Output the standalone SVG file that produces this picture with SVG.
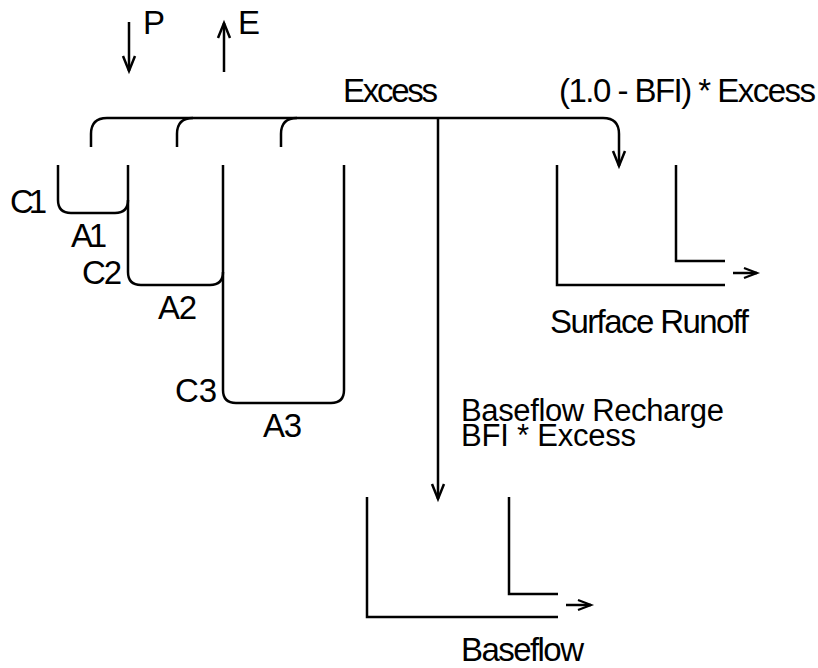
<svg xmlns="http://www.w3.org/2000/svg" width="818" height="668" viewBox="0 0 818 668">
<style>
.t{font-family:"Liberation Sans",Arial,sans-serif;font-size:33px;fill:#000}
.s{font-size:31px}
.ln{fill:none;stroke:#000;stroke-width:2.5}
.big{marker-end:url(#ab)}
.sm{marker-end:url(#as)}
</style>
<defs>
<marker id="ab" markerUnits="userSpaceOnUse" markerWidth="18" markerHeight="14" refX="15" refY="6" orient="auto" overflow="visible">
<path d="M0,0 L15,6 L0,12" fill="none" stroke="#000" stroke-width="2.5"/>
</marker>
<marker id="as" markerUnits="userSpaceOnUse" markerWidth="16" markerHeight="12" refX="13" refY="5" orient="auto" overflow="visible">
<path d="M0,0 L13,5 L0,10" fill="none" stroke="#000" stroke-width="2.2"/>
</marker>
</defs>
<rect width="818" height="668" fill="#fff"/>
<g id="connectors">
<path class="ln big" d="M129,22 V71"/>
<path class="ln big" d="M224,72 V23"/>
<path class="ln big" d="M91,147 V134 Q91,118 107,118 H603 Q619,118 619,134 V166"/>
<path class="ln" d="M177,147 V134 Q177,118 193,118"/>
<path class="ln" d="M281,147 V134 Q281,118 297,118"/>
<path class="ln big" d="M438,118 V499"/>
<path class="ln sm" d="M733,273 H757"/>
<path class="ln sm" d="M566,605 H591"/>
</g>
<g id="tank1">
<path class="ln" d="M58,165 V200 Q58,213 71,213 H115 Q128,213 128,200"/>
<text class="t" x="10" y="213" textLength="37" lengthAdjust="spacing">C1</text>
<text class="t" x="71" y="247" textLength="36" lengthAdjust="spacing">A1</text>
</g>
<g id="tank2">
<path class="ln" d="M128,165 V272 Q128,285 141,285 H210 Q223,285 223,272"/>
<text class="t" x="82" y="284" textLength="40" lengthAdjust="spacing">C2</text>
<text class="t" x="158" y="319" textLength="39" lengthAdjust="spacing">A2</text>
</g>
<g id="tank3">
<path class="ln" d="M223,165 V390 Q223,403 236,403 H331 Q344,403 344,390 V165"/>
<text class="t" x="175" y="402" textLength="42" lengthAdjust="spacing">C3</text>
<text class="t" x="263" y="437" textLength="39" lengthAdjust="spacing">A3</text>
</g>
<g id="surface">
<path class="ln" d="M557,165 V285 H725"/>
<path class="ln" d="M676,165 V261 H725"/>
<text class="t" x="550" y="333" textLength="199" lengthAdjust="spacing">Surface Runoff</text>
</g>
<g id="baseflow">
<path class="ln" d="M367,497 V617 H558"/>
<path class="ln" d="M509,497 V594 H558"/>
<text class="t" x="461" y="661" textLength="123" lengthAdjust="spacing">Baseflow</text>
</g>
<g id="labels">
<text class="t" x="143" y="34">P</text>
<text class="t" x="238" y="34">E</text>
<text class="t" x="343" y="102" textLength="95" lengthAdjust="spacing">Excess</text>
<text class="t" x="559" y="102" textLength="257" lengthAdjust="spacing">(1.0 - BFI) * Excess</text>
<text class="t s" x="461" y="421" textLength="263" lengthAdjust="spacing">Baseflow Recharge</text>
<text class="t s" x="461" y="446" textLength="175" lengthAdjust="spacing">BFI * Excess</text>
</g>
</svg>
